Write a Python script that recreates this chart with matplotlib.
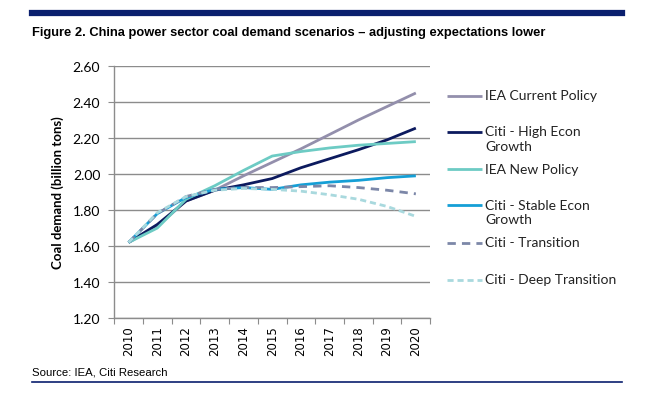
import numpy as np
import matplotlib
matplotlib.use('Agg')
import matplotlib.pyplot as plt
from matplotlib.lines import Line2D

# Data (billion tons)
years = ['2010', '2011', '2012', '2013', '2014', '2015', '2016', '2017', '2018', '2019', '2020']
iea_current = [1.62, 1.71, 1.85, 1.91, 1.99, 2.065, 2.14, 2.22, 2.30, 2.375, 2.45]
citi_high = [1.62, 1.72, 1.85, 1.91, 1.94, 1.975, 2.035, 2.085, 2.135, 2.19, 2.255]
iea_new = [1.62, 1.70, 1.86, 1.935, 2.02, 2.10, 2.125, 2.145, 2.16, 2.17, 2.18]
citi_stable = [1.62, 1.78, 1.87, 1.915, 1.925, 1.915, 1.94, 1.955, 1.965, 1.98, 1.99]
citi_trans = [1.62, 1.78, 1.875, 1.915, 1.925, 1.925, 1.93, 1.935, 1.925, 1.91, 1.89]
citi_deep = [1.62, 1.785, 1.875, 1.91, 1.92, 1.915, 1.905, 1.885, 1.86, 1.82, 1.765]

labels = ['IEA Current Policy', 'Citi - High Econ\nGrowth', 'IEA New Policy',
          'Citi - Stable Econ\nGrowth', 'Citi - Transition', 'Citi - Deep Transition']
series = [iea_current, citi_high, iea_new, citi_stable, citi_trans, citi_deep]
colors = ['#938fac', '#0c1a5e', '#6dcbc4', '#159fd6', '#7c87a8', '#a9d9de']
styles = ['-', '-', '-', '-', (0, (3, 2.2)), (0, (2.2, 1.4))]

y_ticks = [1.20, 1.40, 1.60, 1.80, 2.00, 2.20, 2.40, 2.60]

fig = plt.figure(figsize=(6.45, 4.06), dpi=100)
ax = fig.add_axes([0.177, 0.214, 0.49, 0.621])

x = np.arange(len(years))
order = [0, 2, 1, 3, 4, 5]
for i in order:
    ax.plot(x, series[i], color=colors[i], lw=2.0, linestyle=styles[i],
            solid_capstyle='butt', dash_capstyle='butt', zorder=3 + i * 0.1)

ax.set_xlim(-0.5, len(years) - 0.5)
ax.set_ylim(1.2, 2.6)
ax.set_yticks(y_ticks)
ax.set_yticklabels(['%.2f' % v for v in y_ticks], fontsize=10, family=['Lato', 'DejaVu Sans'])
ax.yaxis.grid(True, color='#8c8c8c', lw=1.0)
ax.set_axisbelow(True)

# category axis: ticks on boundaries, labels at centres
ax.set_xticks(np.arange(-0.5, len(years), 1.0))
ax.set_xticklabels([])
ax.set_xticks(x, minor=True)
ax.set_xticklabels(years, minor=True, rotation=90, fontsize=8.5, family='DejaVu Sans')
ax.tick_params(axis='x', which='minor', length=0, pad=5)
ax.tick_params(axis='x', which='major', length=4, color='#8c8c8c', direction='out')
ax.tick_params(axis='y', length=4, color='#8c8c8c', direction='out', pad=6)

for s in ['top', 'right']:
    ax.spines[s].set_visible(False)
for s in ['left', 'bottom']:
    ax.spines[s].set_color('#8c8c8c')
    ax.spines[s].set_linewidth(1.0)

ax.set_ylabel('Coal demand (billion tons)', fontsize=9.5, fontweight='bold',
              family=['Lato', 'DejaVu Sans'], labelpad=6)

# legend drawn by hand to keep the stacked layout
leg_y = [97, 133, 170, 206, 244, 281]
for i, yy in enumerate(leg_y):
    fy = 1 - yy / 406
    fig.add_artist(Line2D([447 / 645, 482 / 645], [fy, fy], color=colors[i], lw=2.0,
                          linestyle=styles[i], transform=fig.transFigure,
                          solid_capstyle='butt', dash_capstyle='butt'))
    fig.text(485 / 645, fy + 6.5 / 406, labels[i], fontsize=10, va='top', ha='left',
             color='#222222', family=['Lato', 'DejaVu Sans'], linespacing=1.25)

# title bar, title, source and footer rule
fig.add_artist(Line2D([32 / 645, 622 / 645], [1 - 14 / 406, 1 - 14 / 406], color='#0a1f6e',
                      lw=4.5, transform=fig.transFigure))
title = fig.text(32 / 645, 1 - 33 / 406,
                 'Figure 2. China power sector coal demand scenarios \u2013 adjusting expectations lower',
                 fontsize=11, fontweight='bold', va='center', ha='left', family='Liberation Sans')
source = fig.text(32 / 645, 1 - 373 / 406, 'Source: IEA, Citi Research', fontsize=9.5,
                  va='center', ha='left', family='Liberation Sans')
fig.add_artist(Line2D([32 / 645, 622 / 645], [1 - 383 / 406, 1 - 383 / 406], color='#0a1f6e',
                      lw=1.2, transform=fig.transFigure))

# the original uses a narrow face; shrink to the same printed width
r = fig.canvas.get_renderer()
for t, w in [(title, 513), (source, 136)]:
    cur = t.get_window_extent(r).width
    t.set_fontsize(t.get_fontsize() * w / cur)

fig.savefig('out.png', dpi=100)
